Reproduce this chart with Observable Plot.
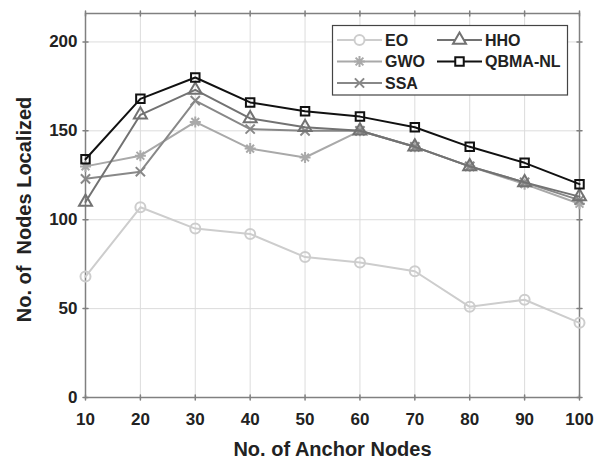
<!DOCTYPE html>
<html>
<head>
<meta charset="utf-8">
<script src="https://cdn.jsdelivr.net/npm/d3@7"></script>
<script src="https://cdn.jsdelivr.net/npm/@observablehq/plot@0.6"></script>
<style>
  html, body { margin: 0; padding: 0; background: #fff; }
  #chart { width: 594px; height: 460px; }
</style>
</head>
<body>
<div id="chart"></div>
<script>
const anchorNodes = [10, 20, 30, 40, 50, 60, 70, 80, 90, 100];
const eo   = [68, 107, 95, 92, 79, 76, 71, 51, 55, 42];
const gwo  = [130, 136, 155, 140, 135, 150, 141, 130, 120, 109];
const ssa  = [123, 127, 167, 151, 150, 150, 141, 130, 121, 111];
const hho  = [110, 159, 173, 157, 152, 150, 141, 130, 121, 113];
const qbma = [134, 168, 180, 166, 161, 158, 152, 141, 132, 120];
const seriesNames = ["EO", "GWO", "SSA", "HHO", "QBMA-NL"];
const xTicks = [10, 20, 30, 40, 50, 60, 70, 80, 90, 100];
const yTicks = [0, 50, 100, 150, 200];
const yMax = 216;
const xLabel = "No. of Anchor Nodes";
const yLabel = "No. of  Nodes Localized";

const colors = {"EO": "#cdcdcd", "GWO": "#a9a9a9", "SSA": "#888888", "HHO": "#727272", "QBMA-NL": "#111111"};

const asterisk = {
  draw(ctx, size) {
    const r = Math.sqrt(size / Math.PI);
    const d = r * Math.SQRT1_2;
    ctx.moveTo(-r, 0); ctx.lineTo(r, 0);
    ctx.moveTo(0, -r); ctx.lineTo(0, r);
    ctx.moveTo(-d, -d); ctx.lineTo(d, d);
    ctx.moveTo(-d, d); ctx.lineTo(d, -d);
  }
};
const times = {
  draw(ctx, size) {
    const r = Math.sqrt(size / Math.PI) * Math.SQRT1_2;
    ctx.moveTo(-r, -r); ctx.lineTo(r, r);
    ctx.moveTo(-r, r); ctx.lineTo(r, -r);
  }
};
const symbols = {"EO": d3.symbolCircle, "GWO": asterisk, "SSA": times, "HHO": d3.symbolTriangle2, "QBMA-NL": d3.symbolSquare2};
const radii = {"EO": 5.0, "GWO": 5.5, "SSA": 6.5, "HHO": 6.2, "QBMA-NL": 5.4};

const valuesByName = {"EO": eo, "GWO": gwo, "SSA": ssa, "HHO": hho, "QBMA-NL": qbma};
const rows = seriesNames.flatMap(name => anchorNodes.map((x, i) => ({name, x, y: valuesByName[name][i]})));

const tickShape = {draw(ctx, l) { ctx.moveTo(0, 0); ctx.lineTo(0, -l); }};
const font = "'Liberation Sans', Arial, Helvetica, sans-serif";

const marks = [
  Plot.gridX(xTicks, {stroke: "#dcdcdc", strokeOpacity: 1, strokeWidth: 1}),
  Plot.gridY(yTicks, {stroke: "#dcdcdc", strokeOpacity: 1, strokeWidth: 1}),
  Plot.frame({stroke: "#808080", strokeWidth: 1.5}),
  Plot.vector(xTicks, {x: d => d, y: () => 0, length: 5, rotate: 0, shape: tickShape, stroke: "#808080"}),
  Plot.vector(xTicks, {x: d => d, y: () => yMax, length: 5, rotate: 180, shape: tickShape, stroke: "#808080"}),
  Plot.vector(yTicks, {y: d => d, x: () => 10, length: 5, rotate: 90, shape: tickShape, stroke: "#808080"}),
  Plot.vector(yTicks, {y: d => d, x: () => 100, length: 5, rotate: 270, shape: tickShape, stroke: "#808080"}),
  Plot.axisX({ticks: xTicks, tickSize: 0, tickPadding: 15, label: null, fontSize: 17, fontWeight: "bold", fill: "#222"}),
  Plot.axisY({ticks: yTicks, tickSize: 0, tickPadding: 8, label: null, fontSize: 17, fontWeight: "bold", fill: "#222"}),
];
for (const name of seriesNames) {
  const data = rows.filter(d => d.name === name);
  marks.push(Plot.line(data, {x: "x", y: "y", stroke: colors[name], strokeWidth: 2}));
  marks.push(Plot.dot(data, {x: "x", y: "y", stroke: colors[name], strokeWidth: 2, fill: "none", symbol: symbols[name], r: radii[name]}));
}
marks.push(Plot.text([xLabel], {frameAnchor: "bottom", dy: 52, fontSize: 20, fontWeight: "bold", fill: "#222", textAnchor: "middle", lineAnchor: "middle"}));
marks.push(Plot.text([yLabel], {frameAnchor: "left", dx: -61, dy: 4, rotate: -90, fontSize: 20, fontWeight: "bold", fill: "#222", textAnchor: "middle", lineAnchor: "middle"}));

const plot = Plot.plot({
  width: 594,
  height: 460,
  marginLeft: 85,
  marginRight: 15,
  marginTop: 13,
  marginBottom: 63,
  style: {fontFamily: font, background: "#fff", overflow: "visible"},
  x: {domain: [10, 100]},
  y: {domain: [0, yMax]},
  marks
});

const svg = d3.select(plot);
svg.selectAll("text").filter(function() { return this.textContent === yLabel; }).style("white-space", "pre");

// legend
const lg = svg.append("g")
  .style("font-family", font).style("font-size", "16px").style("font-weight", "bold");
lg.append("rect").attr("x", 332.5).attr("y", 25.5).attr("width", 235).attr("height", 69.5)
  .attr("fill", "#fff").attr("stroke", "#444").attr("stroke-width", 1.2);
const legendLayout = [
  {name: "EO", col: 0, row: 0}, {name: "GWO", col: 0, row: 1}, {name: "SSA", col: 0, row: 2},
  {name: "HHO", col: 1, row: 0}, {name: "QBMA-NL", col: 1, row: 1}
];
for (const e of legendLayout) {
  const x0 = e.col === 0 ? 337 : 437;
  const y0 = 40 + e.row * 21.5;
  const c = colors[e.name];
  lg.append("line").attr("x1", x0).attr("x2", x0 + 45).attr("y1", y0).attr("y2", y0).attr("stroke", c).attr("stroke-width", 2);
  const s = symbols[e.name];
  const r = radii[e.name];
  const closed = s === d3.symbolCircle || s === d3.symbolTriangle2 || s === d3.symbolSquare2;
  lg.append("path").attr("transform", `translate(${x0 + 22.5},${y0})`)
    .attr("d", d3.symbol(s, Math.PI * r * r)())
    .attr("fill", closed ? "#fff" : "none").attr("stroke", c).attr("stroke-width", 2);
  lg.append("text").attr("x", x0 + 48).attr("y", y0).attr("dy", "0.36em")
    .style("text-anchor", "start").style("font-size", "16px").style("font-weight", "bold")
    .attr("fill", "#222").text(e.name);
}

document.getElementById("chart").appendChild(plot);
</script>
</body>
</html>
